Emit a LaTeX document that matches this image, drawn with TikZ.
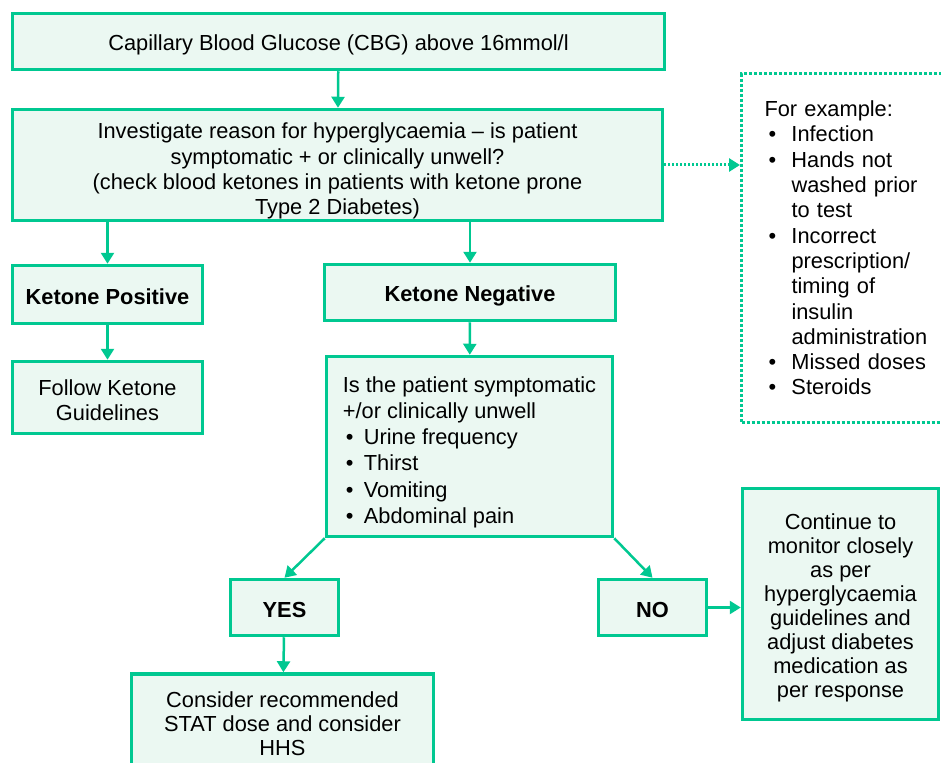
\documentclass[tikz,border=0pt]{standalone}
\usepackage{fontspec}
\setmainfont{Liberation Sans}
\usetikzlibrary{arrows.meta}
\definecolor{kgreen}{RGB}{0,200,145}
\definecolor{kfill}{RGB}{235,248,242}
\tikzset{>={Triangle[length=11pt,width=13pt]}}
\tikzstyle{stepbox}=[rectangle,draw=kgreen,fill=kfill,line width=3.5pt,align=center,inner sep=0pt]
\tikzstyle{notebox}=[rectangle,draw=kgreen,line width=3pt,dash pattern=on 3pt off 2pt,align=left,inner sep=0pt]
\tikzstyle{link}=[->,draw=kgreen,line width=2.5pt]
\newcommand{\bul}[1]{\makebox[#1][l]{\textbullet}}
\newcommand{\pad}[1]{\rule{0pt}{#1}}

\begin{document}
\begin{tikzpicture}[x=1pt,y=-1pt,every node/.style={font=\fontsize{21.8}{25.3}\selectfont}]
\useasboundingbox (0,0) rectangle (941,762);
\def \tight {\fontsize{21.8}{24}\selectfont};

\node[stepbox,minimum width=652pt,minimum height=56pt] (cbg) at (338.5,41.5)
	{\pad{22pt}Capillary Blood Glucose (CBG) above 16mmol/l};
\node[stepbox,minimum width=650pt,minimum height=111pt] (inv) at (337.5,165)
	{\pad{28pt}Investigate reason for hyperglycaemia – is patient\\symptomatic + or clinically unwell?\\(check blood ketones in patients with ketone prone\\Type 2 Diabetes)};

\node[notebox,minimum width=236pt,minimum height=348pt,text width=190pt] (ex) at (859.5,248)
	{For example:\\
	\hspace*{4pt}\bul{23pt}Infection\\
	\hspace*{4pt}\bul{23pt}Hands not\\
	\hspace*{27pt}washed prior\\
	\hspace*{27pt}to test\\
	\hspace*{4pt}\bul{23pt}Incorrect\\
	\hspace*{27pt}prescription/\\
	\hspace*{27pt}timing of\\
	\hspace*{27pt}insulin\\
	\hspace*{27pt}administration\\
	\hspace*{4pt}\bul{23pt}Missed doses\\
	\hspace*{4pt}\bul{23pt}Steroids};

\node[stepbox,minimum width=190pt,minimum height=58pt] (kpos) at (107.5,294.5) {\pad{20pt}\textbf{Ketone Positive}};
\node[stepbox,minimum width=291pt,minimum height=56pt] (kneg) at (470,292.5) {\pad{22pt}\textbf{Ketone Negative}};
\node[stepbox,minimum width=190pt,minimum height=72pt] (follow) at (107.5,397.5) {\pad{21pt}Follow Ketone\\Guidelines};

\node[stepbox,align=left,minimum width=286pt,minimum height=180pt] (symp) at (469.5,446.5)
	{\pad{28pt}Is the patient symptomatic\\
	+/or clinically unwell\\[1pt]
	\hspace*{3pt}\bul{18pt}Urine frequency\\[1pt]
	\hspace*{3pt}\bul{18pt}Thirst\\[1pt]
	\hspace*{3pt}\bul{18pt}Vomiting\\[1pt]
	\hspace*{3pt}\bul{18pt}Abdominal pain};

\node[stepbox,minimum width=108pt,minimum height=56pt] (yes) at (284.5,607.5) {\pad{20pt}\textbf{YES}};
\node[stepbox,minimum width=108pt,minimum height=56pt] (no) at (652.5,607.5) {\pad{20pt}\textbf{NO}};

\node[stepbox,minimum width=196pt,minimum height=231pt,font=\tight] (cont) at (840.5,604)
	{\pad{24pt}Continue to\\monitor closely\\as per\\hyperglycaemia\\guidelines and\\adjust diabetes\\medication as\\per response};
\node[stepbox,minimum width=302pt,minimum height=100pt,font=\tight] (stat) at (282.5,724)
	{Consider recommended\\STAT dose and consider\\HHS};

\draw[link] (cbg) -- (inv);
\draw[link,line width=3pt,dash pattern=on 2pt off 2pt] (inv) -- (inv -| ex.west);
\draw[link] (inv.south -| kpos.north) -- (kpos.north);
\draw[link] (inv.south -| kneg.north) -- (kneg.north);
\draw[link] (kpos) -- (follow);
\draw[link] (kneg) -- (symp);
\draw[link] (symp.south west) -- (yes.north);
\draw[link] (symp.south east) -- (no.north);
\draw[link] (yes) -- (stat);
\draw[link] (no) -- (no -| cont.west);

\end{tikzpicture}
\end{document}
